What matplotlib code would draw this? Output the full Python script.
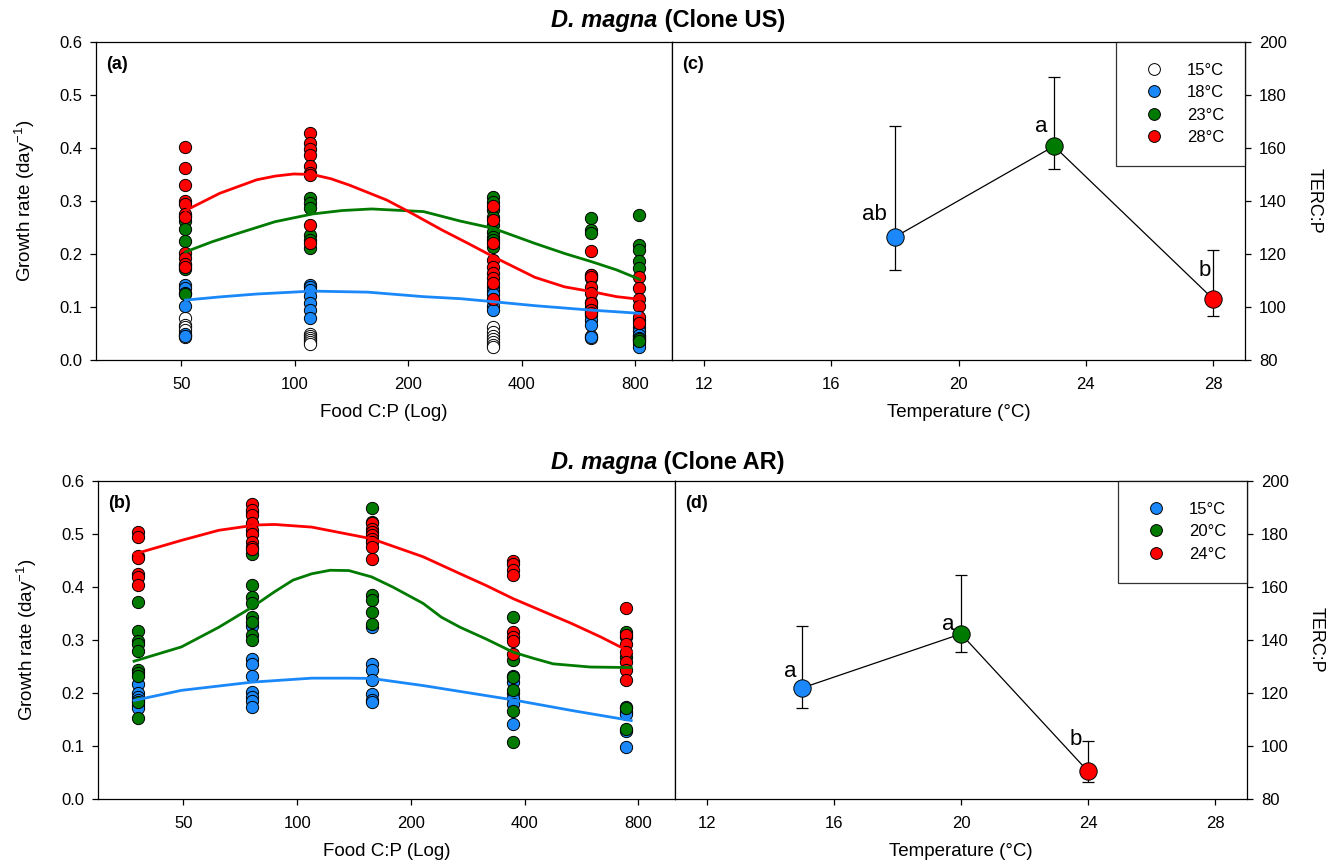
import matplotlib
matplotlib.use('Agg')
import matplotlib.pyplot as plt
from matplotlib.lines import Line2D
from matplotlib.ticker import NullLocator

plt.rcParams['font.family'] = ['Liberation Sans', 'DejaVu Sans']
plt.rcParams['mathtext.fontset'] = 'custom'
plt.rcParams['mathtext.rm'] = 'Liberation Sans'
plt.rcParams['mathtext.default'] = 'regular'

# ---------------- data ----------------
food_ticks = [50, 100, 200, 400, 800]
temp_ticks = [12, 16, 20, 24, 28]
ter_ticks = [80, 100, 120, 140, 160, 180, 200]
growth_ticks = [0.0, 0.1, 0.2, 0.3, 0.4, 0.5, 0.6]

# Panel (a): Clone US, food C:P levels
a_food = [51, 110, 335, 610, 820]
a_15 = [[0.079, 0.066, 0.062, 0.057, 0.048, 0.044],
        [0.050, 0.046, 0.042, 0.038, 0.034, 0.030],
        [0.062, 0.052, 0.046, 0.040, 0.034, 0.028, 0.024],
        [0.046, 0.042],
        [0.045, 0.038, 0.032]]
a_18 = [[0.142, 0.135, 0.126, 0.102, 0.050, 0.046],
        [0.142, 0.138, 0.132, 0.120, 0.107, 0.094, 0.080],
        [0.138, 0.130, 0.124, 0.113, 0.101, 0.094],
        [0.110, 0.100, 0.090, 0.085, 0.075, 0.066, 0.044],
        [0.075, 0.063, 0.055, 0.047, 0.041, 0.025]]
a_23 = [[0.272, 0.262, 0.248, 0.225, 0.180, 0.172, 0.125],
        [0.305, 0.296, 0.286, 0.236, 0.226, 0.211],
        [0.307, 0.299, 0.283, 0.270, 0.255, 0.242, 0.233, 0.226, 0.214],
        [0.267, 0.245, 0.240, 0.160, 0.155],
        [0.274, 0.217, 0.208, 0.186, 0.173, 0.040, 0.035]]
a_28 = [[0.402, 0.362, 0.330, 0.300, 0.294, 0.275, 0.270, 0.202, 0.192, 0.181, 0.175],
        [0.429, 0.409, 0.399, 0.387, 0.366, 0.353, 0.349, 0.255, 0.220],
        [0.291, 0.264, 0.220, 0.189, 0.176, 0.164, 0.154, 0.145, 0.116],
        [0.206, 0.160, 0.156, 0.138, 0.126, 0.107, 0.094, 0.088],
        [0.156, 0.135, 0.116, 0.101, 0.082, 0.069]]

# fitted curves (a)
a_fit18_x = [51.3, 63.2, 79.2, 111.3, 156.3, 219.5, 275, 335.7, 433, 612, 713, 822]
a_fit18_y = [0.113, 0.119, 0.1245, 0.130, 0.128, 0.1195, 0.1157, 0.110, 0.1025, 0.094, 0.091, 0.088]
a_fit23_x = [51.3, 60.3, 70.7, 88.7, 111.3, 133.4, 159.8, 219.5, 275, 335.7, 433, 519, 612, 713, 822]
a_fit23_y = [0.204, 0.223, 0.239, 0.261, 0.2755, 0.282, 0.285, 0.280, 0.262, 0.2485, 0.220, 0.201,
             0.1855, 0.170, 0.152]
a_fit28_x = [51.3, 63.2, 79.2, 88.7, 99.3, 111.3, 124.6, 139.5, 175, 200.4, 246, 288, 335.7, 433,
             519, 612, 713, 822]
a_fit28_y = [0.282, 0.3145, 0.340, 0.347, 0.351, 0.350, 0.342, 0.330, 0.302, 0.280, 0.245, 0.220,
             0.195, 0.156, 0.138, 0.129, 0.1195, 0.1145]

# Panel (b): Clone AR
b_food = [38, 76, 158, 373, 742]
b_15 = [[0.217, 0.200, 0.193, 0.186, 0.177, 0.171],
        [0.327, 0.265, 0.254, 0.233, 0.202, 0.193, 0.185, 0.173],
        [0.325, 0.254, 0.243, 0.225, 0.198, 0.186, 0.183],
        [0.232, 0.221, 0.200, 0.190, 0.180, 0.142],
        [0.173, 0.165, 0.160, 0.129, 0.098]]
b_20 = [[0.372, 0.317, 0.298, 0.293, 0.279, 0.243, 0.238, 0.233, 0.183, 0.153],
        [0.541, 0.463, 0.403, 0.381, 0.369, 0.343, 0.334, 0.309, 0.300],
        [0.550, 0.523, 0.384, 0.375, 0.353, 0.331],
        [0.343, 0.262, 0.231, 0.206, 0.166, 0.107],
        [0.315, 0.306, 0.268, 0.171, 0.132]]
b_24 = [[0.504, 0.495, 0.458, 0.454, 0.424, 0.418, 0.403],
        [0.556, 0.545, 0.536, 0.520, 0.507, 0.500, 0.485, 0.476, 0.471],
        [0.520, 0.510, 0.504, 0.498, 0.491, 0.485, 0.476, 0.452],
        [0.449, 0.443, 0.432, 0.422, 0.315, 0.306, 0.299, 0.274],
        [0.361, 0.309, 0.293, 0.277, 0.258, 0.243, 0.224]]

b_fit15_x = [37.0, 49.4, 76.0, 109.3, 137, 157.5, 215.5, 373, 533, 766]
b_fit15_y = [0.186, 0.205, 0.2205, 0.228, 0.228, 0.2275, 0.214, 0.187, 0.167, 0.148]
b_fit20_x = [37.0, 49.4, 62.0, 76.0, 87.1, 97.5, 109.3, 122.3, 137, 157.5, 179, 215.5, 240.8, 270,
             316, 373, 424, 476, 597, 766]
b_fit20_y = [0.260, 0.287, 0.324, 0.362, 0.391, 0.413, 0.425, 0.4316, 0.431, 0.419, 0.400, 0.369,
             0.343, 0.324, 0.302, 0.277, 0.265, 0.255, 0.249, 0.248]
b_fit24_x = [37.0, 49.4, 62.0, 77.8, 87.1, 109.3, 157.5, 215.5, 270, 316, 373, 533, 637, 742, 766]
b_fit24_y = [0.462, 0.488, 0.507, 0.517, 0.518, 0.513, 0.491, 0.457, 0.425, 0.403, 0.378, 0.331,
             0.3055, 0.2815, 0.277]

# Panel (c): TER C:P vs temperature, Clone US
c_temp = [18, 23, 28]
c_ter = [126.4, 160.7, 103.0]
c_upper = [168.4, 186.8, 121.6]
c_lower = [113.8, 151.9, 96.5]
c_letters = ['ab', 'a', 'b']
c_letter_x = [17.35, 22.6, 27.75]
c_letter_y = [134.8, 168.3, 113.8]
c_legend = ['15°C', '18°C', '23°C', '28°C']

# Panel (d): Clone AR
d_temp = [15, 20, 24]
d_ter = [121.9, 142.3, 90.4]
d_upper = [145.2, 164.5, 101.8]
d_lower = [114.5, 135.5, 86.6]
d_letters = ['a', 'a', 'b']
d_letter_x = [14.62, 19.6, 23.6]
d_letter_y = [128.2, 145.8, 102.6]
d_legend = ['15°C', '20°C', '24°C']

titles_species = ['D. magna', 'D. magna']
titles_clone = [' (Clone US)', ' (Clone AR)']

WHITE = '#FFFFFF'
BLUE = '#1A88F8'
GREEN = '#007A00'
RED = '#FF0000'

# ---------------- figure ----------------
W, H = 1333, 864
fig = plt.figure(figsize=(W / 100, H / 100), dpi=100)


def box(x0, y0, x1, y1):
    return [x0 / W, 1 - y1 / H, (x1 - x0) / W, (y1 - y0) / H]


ax_a = fig.add_axes(box(96, 42, 672, 360))
ax_c = fig.add_axes(box(672, 42, 1245, 360))
ax_b = fig.add_axes(box(98, 481, 675, 799))
ax_d = fig.add_axes(box(675, 481, 1247, 799))

TICK_FS = 12
LAB_FS = 13.5


def style(ax):
    for s in ax.spines.values():
        s.set_linewidth(0.9)
    ax.tick_params(direction='out', length=4, width=0.9, labelsize=TICK_FS)


def scatter_cols(ax, xs, cols, color, z):
    px, py = [], []
    for x, col in zip(xs, cols):
        for v in col:
            px.append(x)
            py.append(v)
    ax.scatter(px, py, s=78, c=color, edgecolors='black', linewidths=0.7, zorder=z)


def growth_panel(ax, label):
    style(ax)
    ax.set_xscale('log')
    ax.set_xlim(29.7, 1000)
    ax.set_ylim(0, 0.6)
    ax.set_xticks(food_ticks)
    ax.set_xticklabels([str(t) for t in food_ticks])
    ax.xaxis.set_minor_locator(NullLocator())
    ax.set_yticks(growth_ticks)
    ax.set_yticklabels(['%.1f' % t for t in growth_ticks])
    ax.tick_params(axis='x', pad=8)
    ax.tick_params(axis='y', pad=6)
    ax.set_xlabel('Food C:P (Log)', fontsize=LAB_FS, labelpad=9)
    ax.set_ylabel('Growth rate (day$^{-1}$)', fontsize=LAB_FS, labelpad=16)
    ax.text(0.018, 0.955, label, transform=ax.transAxes, fontsize=13,
            fontweight='bold', ha='left', va='top')


# panel (a)
growth_panel(ax_a, '(a)')
scatter_cols(ax_a, a_food, a_15, WHITE, 3)
scatter_cols(ax_a, a_food, a_18, BLUE, 4)
scatter_cols(ax_a, a_food, a_23, GREEN, 5)
scatter_cols(ax_a, a_food, a_28, RED, 6)
ax_a.plot(a_fit18_x, a_fit18_y, color=BLUE, lw=2, zorder=7)
ax_a.plot(a_fit23_x, a_fit23_y, color=GREEN, lw=2, zorder=7)
ax_a.plot(a_fit28_x, a_fit28_y, color=RED, lw=2, zorder=7)

# panel (b)
growth_panel(ax_b, '(b)')
scatter_cols(ax_b, b_food, b_15, BLUE, 4)
scatter_cols(ax_b, b_food, b_20, GREEN, 5)
scatter_cols(ax_b, b_food, b_24, RED, 6)
ax_b.plot(b_fit15_x, b_fit15_y, color=BLUE, lw=2, zorder=7)
ax_b.plot(b_fit20_x, b_fit20_y, color=GREEN, lw=2, zorder=7)
ax_b.plot(b_fit24_x, b_fit24_y, color=RED, lw=2, zorder=7)


def ter_panel(ax, label, temps, ter, up, lo, colors, letters, lx, ly, leg_labels, leg_colors):
    style(ax)
    ax.set_xlim(11, 29)
    ax.set_ylim(80, 200)
    ax.set_xticks(temp_ticks)
    ax.set_yticks(ter_ticks)
    ax.yaxis.tick_right()
    ax.yaxis.set_label_position('right')
    ax.tick_params(axis='x', pad=8)
    ax.tick_params(axis='y', pad=6)
    ax.set_xlabel('Temperature (°C)', fontsize=LAB_FS, labelpad=9)
    ax.set_ylabel('TERC:P', fontsize=13, rotation=270, labelpad=26)
    ax.text(0.018, 0.955, label, transform=ax.transAxes, fontsize=13,
            fontweight='bold', ha='left', va='top')
    yerr = [[t - l for t, l in zip(ter, lo)], [u - t for t, u in zip(ter, up)]]
    ax.errorbar(temps, ter, yerr=yerr, fmt='none', ecolor='black', elinewidth=0.9,
                capsize=4.5, capthick=0.9, zorder=2)
    ax.plot(temps, ter, color='black', lw=0.9, zorder=3)
    for t, v, c in zip(temps, ter, colors):
        ax.plot([t], [v], 'o', ms=12.5, mfc=c, mec='black', mew=0.7, zorder=4)
    for s, x, y in zip(letters, lx, ly):
        ax.text(x, y, s, fontsize=16, ha='center', va='center', zorder=5)
    handles = [Line2D([], [], ls='none', marker='o', ms=8.5, mfc=c, mec='black', mew=0.7)
               for c in leg_colors]
    leg = ax.legend(handles, leg_labels, loc='upper right', bbox_to_anchor=(1.0, 1.0),
                    borderaxespad=0, frameon=True, fancybox=False, fontsize=12,
                    borderpad=1.25, labelspacing=0.45, handlelength=2.0,
                    handletextpad=1.0)
    leg.get_frame().set_edgecolor('black')
    leg.get_frame().set_linewidth(0.9)


ter_panel(ax_c, '(c)', c_temp, c_ter, c_upper, c_lower, [BLUE, GREEN, RED],
          c_letters, c_letter_x, c_letter_y, c_legend, [WHITE, BLUE, GREEN, RED])
ter_panel(ax_d, '(d)', d_temp, d_ter, d_upper, d_lower, [BLUE, GREEN, RED],
          d_letters, d_letter_x, d_letter_y, d_legend, [BLUE, GREEN, RED])

# titles: italic bold species name + bold clone, centred together
renderer = fig.canvas.get_renderer()
for sp, cl, ypx in zip(titles_species, titles_clone, [20, 462]):
    y = 1 - ypx / H
    t1 = fig.text(0, y, sp, ha='left', va='center', fontsize=17,
                  fontweight='bold', fontstyle='italic')
    t2 = fig.text(0, y, cl, ha='left', va='center', fontsize=17, fontweight='bold')
    w1 = t1.get_window_extent(renderer).width
    w2 = t2.get_window_extent(renderer).width
    x0 = 668 - (w1 + w2) / 2
    t1.set_x(x0 / W)
    t2.set_x((x0 + w1) / W)

fig.savefig('out.png', dpi=100)
